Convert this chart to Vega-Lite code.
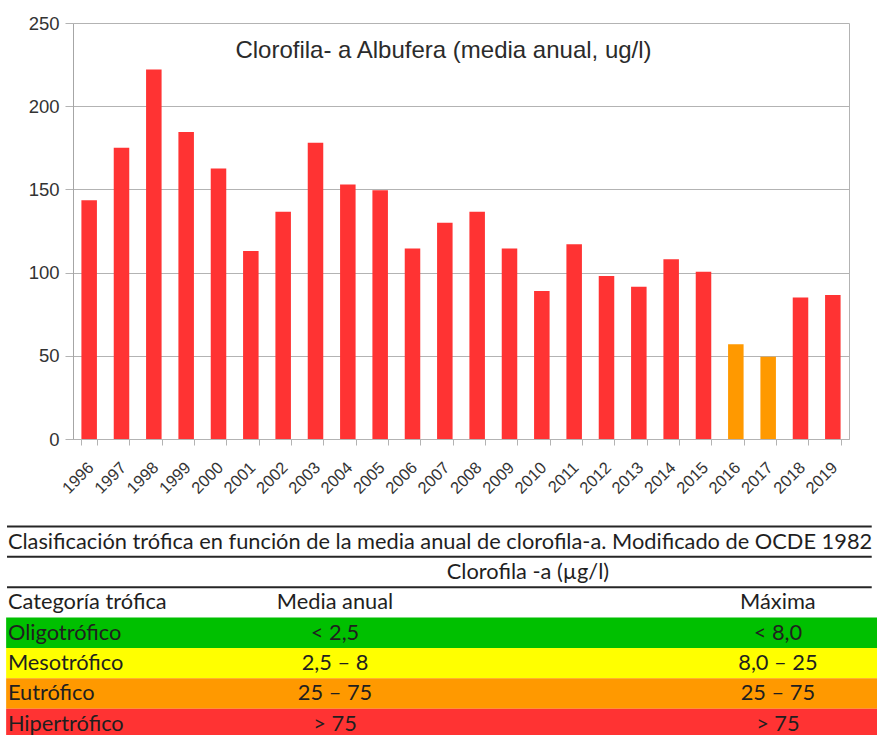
{
  "$schema": "https://vega.github.io/schema/vega-lite/v6.json",
  "width": 877,
  "height": 735,
  "autosize": {"type": "fit", "contains": "padding"},
  "padding": 0,
  "background": "#ffffff",
  "config": {"view": {"stroke": null}},
  "title": {
    "text": "Clorofila- a Albufera (media anual, ug/l)",
    "font": "Liberation Sans",
    "fontSize": 24,
    "fontWeight": "normal",
    "color": "#2b2b2b",
    "anchor": "middle",
    "frame": "group",
    "offset": 0,
    "baseline": "alphabetic",
    "dy": 82,
    "dx": 5
  },
  "datasets": {
    "clorofila": [
      {"anio": "1996", "valor": 143.5, "clase": "Hipertrófico"},
      {"anio": "1997", "valor": 175, "clase": "Hipertrófico"},
      {"anio": "1998", "valor": 222, "clase": "Hipertrófico"},
      {"anio": "1999", "valor": 184.5, "clase": "Hipertrófico"},
      {"anio": "2000", "valor": 162.5, "clase": "Hipertrófico"},
      {"anio": "2001", "valor": 113, "clase": "Hipertrófico"},
      {"anio": "2002", "valor": 136.5, "clase": "Hipertrófico"},
      {"anio": "2003", "valor": 178, "clase": "Hipertrófico"},
      {"anio": "2004", "valor": 153, "clase": "Hipertrófico"},
      {"anio": "2005", "valor": 149.5, "clase": "Hipertrófico"},
      {"anio": "2006", "valor": 114.5, "clase": "Hipertrófico"},
      {"anio": "2007", "valor": 130, "clase": "Hipertrófico"},
      {"anio": "2008", "valor": 136.5, "clase": "Hipertrófico"},
      {"anio": "2009", "valor": 114.5, "clase": "Hipertrófico"},
      {"anio": "2010", "valor": 89, "clase": "Hipertrófico"},
      {"anio": "2011", "valor": 117, "clase": "Hipertrófico"},
      {"anio": "2012", "valor": 98, "clase": "Hipertrófico"},
      {"anio": "2013", "valor": 91.5, "clase": "Hipertrófico"},
      {"anio": "2014", "valor": 108, "clase": "Hipertrófico"},
      {"anio": "2015", "valor": 100.5, "clase": "Hipertrófico"},
      {"anio": "2016", "valor": 57, "clase": "Eutrófico"},
      {"anio": "2017", "valor": 49.5, "clase": "Eutrófico"},
      {"anio": "2018", "valor": 85, "clase": "Hipertrófico"},
      {"anio": "2019", "valor": 86.5, "clase": "Hipertrófico"}
    ],
    "tabla": [
      {"fila": "titulo", "izquierda": "Clasificación trófica en función de la media anual de clorofila-a. Modificado de OCDE 1982"},
      {"fila": "unidad", "centro": "Clorofila -a (µg/l)"},
      {"fila": "cabecera", "izquierda": "Categoría trófica", "media": "Media anual", "maxima": "Máxima"},
      {"fila": "Oligotrófico", "izquierda": "Oligotrófico", "media": "< 2,5", "maxima": "< 8,0"},
      {"fila": "Mesotrófico", "izquierda": "Mesotrófico", "media": "2,5 – 8", "maxima": "8,0 – 25"},
      {"fila": "Eutrófico", "izquierda": "Eutrófico", "media": "25 – 75", "maxima": "25 – 75"},
      {"fila": "Hipertrófico", "izquierda": "Hipertrófico", "media": "> 75", "maxima": "> 75"}
    ]
  },
  "layer": [
    {
      "data": {"name": "clorofila"},
      "layer": [
        {
          "mark": {"type": "bar"},
          "encoding": {
            "x": {
              "field": "anio",
              "type": "ordinal",
              "scale": {"range": [73, 849], "paddingInner": 0.52, "paddingOuter": 0.26},
              "axis": {
                "orient": "bottom",
                "offset": -296,
                "title": null,
                "labelAngle": -45,
                "labelFont": "Liberation Sans",
                "labelFontSize": 16.5,
                "labelColor": "#333333",
                "labelPadding": 14,
                "labelOffset": -4,
                "tickBand": "extent",
                "tickSize": 6,
                "tickColor": "#b3b3b3",
                "domainColor": "#b3b3b3",
                "grid": false
              }
            },
            "y": {
              "field": "valor",
              "type": "quantitative",
              "scale": {"domain": [0, 250], "range": [439, 23], "nice": false},
              "axis": {
                "orient": "left",
                "offset": -73,
                "title": null,
                "values": [0, 50, 100, 150, 200, 250],
                "labelFont": "Liberation Sans",
                "labelFontSize": 18.5,
                "labelColor": "#333333",
                "labelPadding": 6,
                "tickSize": 8,
                "tickColor": "#b3b3b3",
                "domainColor": "#a6a6a6",
                "grid": true,
                "gridColor": "#b3b3b3"
              }
            },
            "color": {
              "field": "clase",
              "type": "nominal",
              "scale": {
                "domain": ["Oligotrófico", "Mesotrófico", "Eutrófico", "Hipertrófico"],
                "range": ["#00c000", "#ffff00", "#ff9900", "#ff3333"]
              },
              "legend": null
            }
          }
        },
        {
          "mark": {"type": "rule", "strokeOpacity": 0},
          "encoding": {
            "y": {
              "field": "valor",
              "type": "quantitative",
              "axis": {
                "orient": "right",
                "offset": -28,
                "title": null,
                "labels": false,
                "ticks": false,
                "grid": false,
                "domainColor": "#b3b3b3"
              }
            }
          }
        }
      ],
      "resolve": {"axis": {"y": "independent"}}
    },
    {
      "data": {"name": "tabla"},
      "encoding": {
        "y": {
          "field": "fila",
          "type": "nominal",
          "scale": {
            "domain": ["titulo", "unidad", "cabecera", "Oligotrófico", "Mesotrófico", "Eutrófico", "Hipertrófico"],
            "range": [526.5, 739],
            "paddingInner": 0,
            "paddingOuter": 0
          },
          "axis": null
        }
      },
      "layer": [
        {
          "transform": [{"filter": {"field": "fila", "oneOf": ["Oligotrófico", "Mesotrófico", "Eutrófico", "Hipertrófico"]}}],
          "mark": {"type": "rect", "clip": true},
          "encoding": {
            "x": {"datum": 0.7, "type": "quantitative", "scale": {"domain": [0, 100], "nice": false, "zero": false}, "axis": null},
            "x2": {"datum": 100},
            "color": {"field": "fila", "type": "nominal", "legend": null}
          }
        },
        {
          "transform": [{"filter": {"field": "fila", "oneOf": ["titulo", "unidad", "cabecera"]}}],
          "mark": {"type": "rule", "color": "#262626", "strokeWidth": 2},
          "encoding": {
            "y": {"field": "fila", "type": "nominal", "bandPosition": 0},
            "x": {"datum": 0.8, "type": "quantitative"},
            "x2": {"datum": 99.4}
          }
        },
        {
          "transform": [{"filter": "isValid(datum.izquierda)"}],
          "mark": {"type": "text", "align": "left", "baseline": "middle", "font": "Lato", "fontSize": 21.8, "color": "#1f1f1f", "clip": true},
          "encoding": {
            "x": {"datum": 0.9, "type": "quantitative"},
            "text": {"field": "izquierda", "type": "nominal"}
          }
        },
        {
          "transform": [{"filter": "isValid(datum.centro)"}],
          "mark": {"type": "text", "align": "center", "baseline": "middle", "font": "Lato", "fontSize": 21.8, "color": "#1f1f1f"},
          "encoding": {
            "x": {"datum": 60.2, "type": "quantitative"},
            "text": {"field": "centro", "type": "nominal"}
          }
        },
        {
          "transform": [{"filter": "isValid(datum.media)"}],
          "mark": {"type": "text", "align": "center", "baseline": "middle", "font": "Lato", "fontSize": 21.8, "color": "#1f1f1f", "clip": true},
          "encoding": {
            "x": {"datum": 38.2, "type": "quantitative"},
            "text": {"field": "media", "type": "nominal"}
          }
        },
        {
          "transform": [{"filter": "isValid(datum.maxima)"}],
          "mark": {"type": "text", "align": "center", "baseline": "middle", "font": "Lato", "fontSize": 21.8, "color": "#1f1f1f", "clip": true},
          "encoding": {
            "x": {"datum": 88.7, "type": "quantitative"},
            "text": {"field": "maxima", "type": "nominal"}
          }
        }
      ]
    }
  ],
  "resolve": {"scale": {"x": "independent", "y": "independent"}}
}
